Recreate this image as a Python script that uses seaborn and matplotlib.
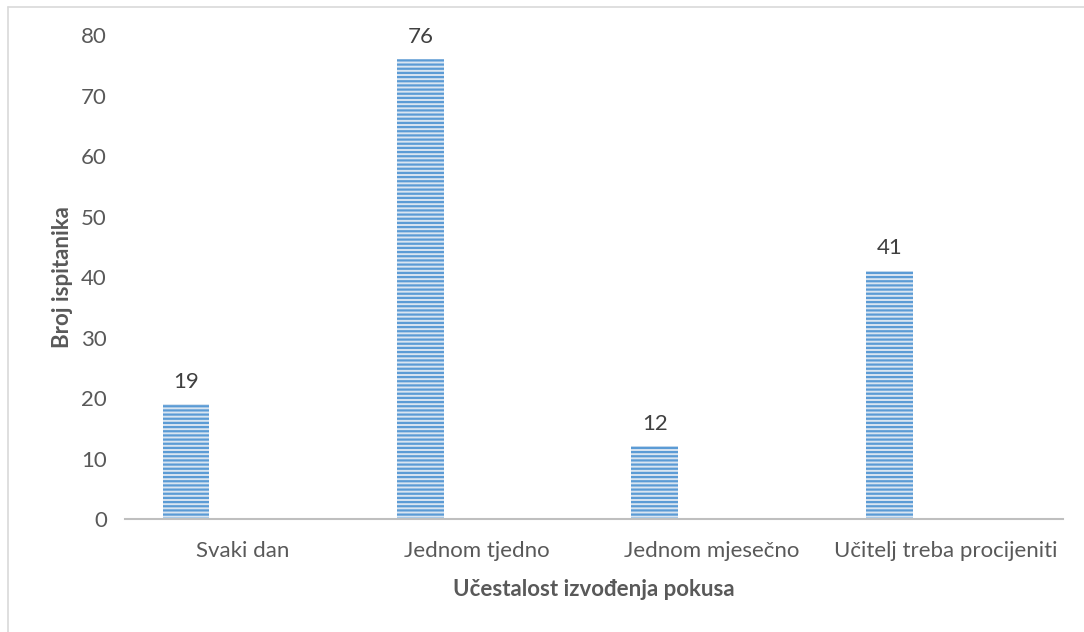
import matplotlib
matplotlib.use("Agg")
import matplotlib.pyplot as plt
import seaborn as sns
from matplotlib.lines import Line2D

kategorije = ["Svaki dan", "Jednom tjedno", "Jednom mjesečno", "Učitelj treba procijeniti"]
broj_ispitanika = [19, 76, 12, 41]
y_ticks = [0, 10, 20, 30, 40, 50, 60, 70, 80]

sns.set_theme(style="white")
plt.rcParams["font.family"] = ["Lato", "DejaVu Sans"]
plt.rcParams["hatch.linewidth"] = 1.6

fig = plt.figure(figsize=(10.84, 6.32), dpi=100)
ax = fig.add_axes([0.1153, 0.1788, 0.8653, 0.7658])

sns.barplot(
    x=kategorije,
    y=broj_ispitanika,
    color="#D5E5F5",
    width=0.2,
    ax=ax,
)

for bar in ax.patches:
    bar.set_x(bar.get_x() - 0.24)
    bar.set_hatch("----")
    bar.set_edgecolor("#5B9BD5")
    bar.set_linewidth(0)

for cont in ax.containers:
    ax.bar_label(cont, padding=9, fontsize=16, color="#404040")

ax.set_xlim(-0.5, len(kategorije) - 0.5)
ax.set_ylim(0, 80)
ax.set_yticks(y_ticks)
ax.tick_params(axis="both", length=0, labelsize=16, labelcolor="#595959")
ax.tick_params(axis="x", pad=16)
ax.tick_params(axis="y", pad=13)

for side in ["top", "right", "left"]:
    ax.spines[side].set_visible(False)
ax.spines["bottom"].set_color("#BFBFBF")
ax.spines["bottom"].set_linewidth(1.5)

ax.set_xlabel("Učestalost izvođenja pokusa", fontsize=16, fontweight="bold", color="#595959", labelpad=13)
ax.set_ylabel("Broj ispitanika", fontsize=16, fontweight="bold", color="#595959", labelpad=6)

# okvir oko grafikona
fig.add_artist(Line2D([8 / 1084, 1], [1 - 7 / 632, 1 - 7 / 632], color="#D9D9D9", linewidth=1.2))
fig.add_artist(Line2D([8 / 1084, 8 / 1084], [0, 1 - 7 / 632], color="#D9D9D9", linewidth=1.2))

fig.savefig("out.png", dpi=100)
